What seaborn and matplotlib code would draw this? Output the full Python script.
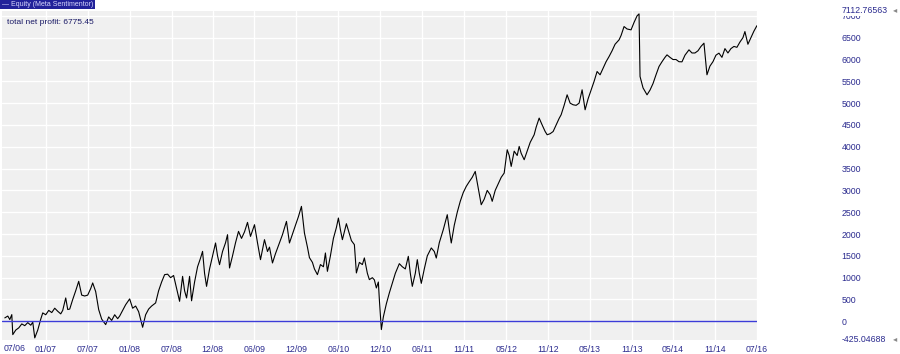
import matplotlib
matplotlib.use("Agg")
import matplotlib.pyplot as plt
import numpy as np
import pandas as pd
import seaborn as sns

sns.set_theme(style="darkgrid")
plt.rcParams["font.family"] = ["Liberation Sans", "DejaVu Sans"]

# bar number (chart x) and equity value
bars = [5, 8, 10, 12, 13, 16, 19, 22, 25, 28, 31, 33, 35, 38, 41, 43, 46, 49, 52, 55,
        58, 61, 63, 66, 68, 70, 73, 76, 79, 82, 85, 88, 91, 93, 96, 99, 102, 106, 109, 112,
        115, 118, 120, 123, 126, 130, 133, 136, 139, 143, 146, 149, 152, 156, 159, 162, 165, 168, 171, 174,
        177, 180, 183, 185, 187, 190, 192, 195, 198, 201, 203, 205, 207, 210, 213, 216, 218, 220, 223, 226,
        228, 230, 233, 236, 239, 242, 245, 248, 251, 255, 258, 261, 265, 268, 270, 273, 276, 280, 283, 287,
        290, 293, 296, 299, 302, 305, 308, 310, 313, 315, 318, 321, 324, 326, 328, 331, 334, 337, 339, 341,
        343, 345, 347, 350, 352, 355, 357, 360, 363, 365, 368, 370, 373, 375, 377, 379, 380, 382, 384, 387,
        390, 393, 396, 400, 403, 406, 409, 411, 413, 416, 418, 420, 422, 425, 428, 432, 435, 437, 440, 444,
        448, 450, 452, 455, 458, 461, 464, 467, 470, 473, 476, 479, 482, 485, 488, 491, 493, 496, 499, 502,
        505, 508, 510, 512, 515, 518, 520, 522, 525, 528, 531, 535, 537, 540, 543, 546, 548, 551, 554, 557,
        560, 562, 565, 568, 571, 574, 577, 580, 583, 586, 589, 592, 595, 598, 601, 604, 607, 610, 613, 616,
        620, 622, 625, 628, 632, 635, 638, 640, 641, 644, 648, 651, 654, 657, 660, 663, 666, 668, 671, 674,
        677, 680, 683, 686, 690, 693, 696, 699, 702, 705, 708, 711, 714, 717, 720, 723, 726, 729, 732, 735,
        738, 741, 744, 746, 749, 752, 755, 758]
equity = [78, 120, 40, 153, -305, -200, -150, -60, -100, -30, -90, -20, -380, -200, 50, 192, 150, 250, 200, 300,
          230, 170, 250, 535, 270, 280, 500, 700, 916, 600, 580, 600, 750, 879, 680, 268, 50, -76, 100, 20,
          150, 60, 120, 250, 380, 513, 300, 350, 220, -137, 150, 280, 350, 421, 700, 900, 1069, 1080, 1000, 1050,
          750, 458, 1030, 700, 535, 1030, 470, 900, 1250, 1450, 1603, 1100, 801, 1200, 1500, 1795, 1500, 1298, 1600, 1800,
          1985, 1222, 1500, 1800, 2061, 1900, 2050, 2267, 1946, 2214, 1800, 1413, 1871, 1600, 1700, 1337, 1550, 1800, 1985, 2290,
          1795, 2000, 2200, 2400, 2634, 2024, 1700, 1459, 1350, 1200, 1069, 1300, 1250, 1566, 1145, 1500, 1900, 2150, 2367, 2100,
          1871, 2050, 2237, 2000, 1850, 1757, 1108, 1350, 1300, 1452, 1100, 955, 1000, 950, 764, 900, 500, -190, 100, 400,
          650, 879, 1100, 1321, 1250, 1200, 1489, 1100, 801, 1100, 1413, 1100, 870, 1200, 1500, 1681, 1600, 1450, 1800, 2100,
          2443, 2100, 1795, 2200, 2500, 2750, 2950, 3092, 3200, 3300, 3435, 3050, 2672, 2800, 3000, 2900, 2750, 3000, 3150, 3300,
          3398, 3932, 3800, 3550, 3900, 3800, 4008, 3850, 3703, 3900, 4100, 4276, 4450, 4658, 4500, 4350, 4276, 4300, 4350, 4500,
          4650, 4734, 4950, 5191, 5000, 4963, 4950, 5000, 5306, 4848, 5100, 5300, 5500, 5725, 5650, 5800, 5950, 6069, 6200, 6350,
          6451, 6550, 6756, 6700, 6680, 6850, 7000, 7046, 5611, 5350, 5191, 5300, 5450, 5650, 5840, 5950, 6050, 6107, 6050, 6000,
          6000, 5950, 5947, 6100, 6222, 6150, 6150, 6200, 6300, 6375, 5650, 5850, 5950, 6100, 6146, 6050, 6250, 6150, 6250, 6300,
          6280, 6400, 6500, 6641, 6350, 6500, 6650, 6775]

date_bars = [46, 88, 130, 172, 213, 255, 297, 339, 381, 423, 465, 507, 549, 591, 633, 674, 716, 758]
date_labels = ["01/07", "07/07", "01/08", "07/08", "12/08", "06/09", "12/09", "06/10", "12/10",
               "06/11", "11/11", "05/12", "11/12", "05/13", "11/13", "05/14", "11/14", "07/16"]
first_label = "07/06"
y_ticks = list(range(0, 7001, 500))
y_min, y_max = -425.04688, 7112.76563
net_profit = 6775.45

label_color = "#2b2b8f"
df = pd.DataFrame({"bar": bars, "equity": equity})

fig = plt.figure(figsize=(9, 3.54), dpi=100)
ax = fig.add_axes([0.002, 0.04, 0.839, 0.929])
ax.set_facecolor("#f0f0f0")
ax.grid(True, color="white", lw=1.0)

sns.lineplot(data=df, x="bar", y="equity", ax=ax, color="black", lw=0.8)
ax.axhline(0, color="#3c3cd8", lw=1.0)

ax.set_xlim(2, 758)
ax.set_ylim(y_min, y_max)
ax.set_xticks(date_bars)
ax.set_xticklabels(date_labels)
ax.set_yticks(y_ticks)
ax.yaxis.tick_right()
ax.tick_params(axis="x", length=0, pad=4, labelsize=6.3, labelcolor=label_color)
ax.tick_params(axis="y", length=0, pad=61, labelsize=6.3, labelcolor=label_color)
for lbl in ax.get_yticklabels():
    lbl.set_horizontalalignment("left")
ax.set_xlabel("")
ax.set_ylabel("")
for s in ax.spines.values():
    s.set_visible(False)

# first date label sits at the left edge
ax.text(0.002, -0.012, first_label, transform=ax.transAxes, ha="left", va="top",
        fontsize=6.3, color=label_color)

# axis extremes, printed over the nearest tick label
for val in (y_max, y_min):
    ax.annotate(f"{val:.5f}", xy=(1, val), xycoords=("axes fraction", "data"),
                xytext=(61, 0), textcoords="offset points", ha="left", va="center",
                fontsize=6.3, color=label_color,
                bbox=dict(boxstyle="square,pad=0.1", fc="white", ec="none"))
    ax.annotate("\u25c2", xy=(1, val), xycoords=("axes fraction", "data"),
                xytext=(98, 0), textcoords="offset points", ha="left", va="center",
                fontsize=6, color="#888888")

# legend header and net profit note
fig.text(0.0, 0.998, " \u2014 Equity (Meta Sentimentor)", ha="left", va="top", fontsize=5,
         color="#d8d8ff", bbox=dict(boxstyle="square,pad=0.25", fc="#22229a", ec="none"))
ax.text(0.007, 0.975, f"total net profit: {net_profit}", transform=ax.transAxes,
        ha="left", va="top", fontsize=6, color="#1a1a66")

fig.savefig("out.png", dpi=100)
